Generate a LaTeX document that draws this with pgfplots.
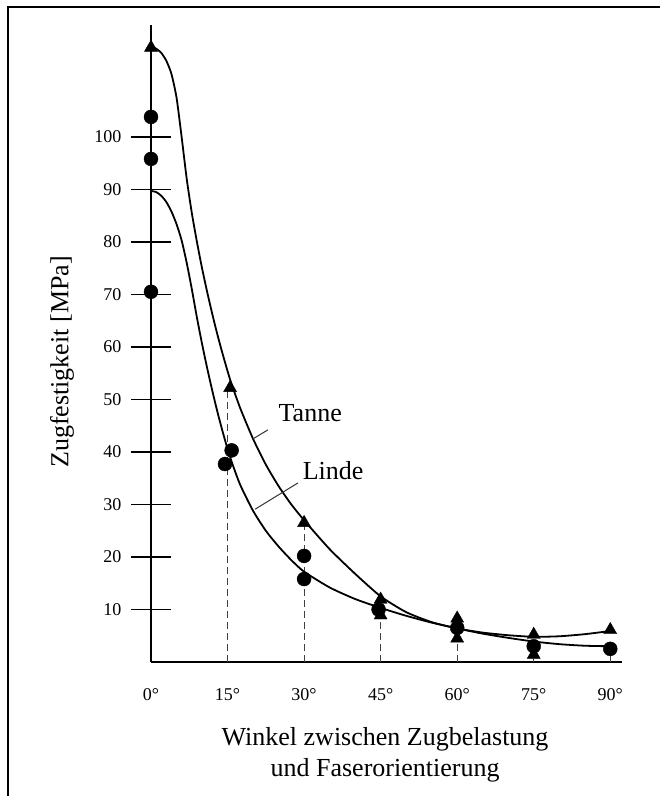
\documentclass[border=0pt]{standalone}
\usepackage{fontspec}
\setmainfont{Liberation Serif}
\usepackage{pgfplots}
\pgfplotsset{compat=1.18}

% Tanne (triangles) and Linde (circles), Zugfestigkeit in MPa
\pgfplotstableread{
w s
0 117
15.5 52.2
30 26.5
45 11.9
45 8.9
60 8.3
60 4.5
75 5.2
75 1.4
90 6.1
}\tannedata
\pgfplotstableread{
w s
0 103.8
0 95.8
0 70.5
15.8 40.3
14.5 37.7
30 20.2
30 15.8
44.6 10.0
60 6.5
75 3.0
90 2.5
}\lindedata

\begin{document}
\begin{tikzpicture}[x=1pt,y=1pt]
\useasboundingbox (0,0) rectangle (660,-796);
\draw[line width=1.8pt] (8,-796) -- (8,-7) -- (660,-7);
\begin{axis}[
    at={(151pt,-662pt)}, anchor=south west,
    scale only axis,
    width=471pt, height=637pt,
    xmin=0, xmax=92.3,
    ymin=0, ymax=121.3,
    clip=false,
    axis lines=left,
    axis line style={-, line width=1.6pt},
    xtick={0,15,30,45,60,75,90},
    xticklabels={0°,15°,30°,45°,60°,75°,90°},
    xtick style={draw=none},
    ytick={10,20,...,100},
    ytick style={black, line width=1.6pt},
    ytick align=center,
    major tick length=40pt,
    /pgf/number format/assume math mode=true,
    tick label style={font=\fontsize{18}{21}\selectfont},
    xticklabel style={yshift=-3pt},
    yticklabel style={xshift=-6pt},
    label style={font=\fontsize{26}{31}\selectfont},
    xlabel={Winkel zwischen Zugbelastung\\und Faserorientierung},
    xlabel style={align=center, at={(axis description cs:0.497,-0.146)}, anchor=center},
    ylabel={Zugfestigkeit [MPa]},
    ylabel style={at={(axis description cs:-0.189,0.471)}, anchor=center},
]
% dashed guide lines
\addplot[black!75, line width=0.9pt, dash pattern=on 7pt off 4pt] coordinates {(15,0) (15,52)};
\addplot[black!75, line width=0.9pt, dash pattern=on 7pt off 4pt] coordinates {(30,0) (30,26)};
\addplot[black!75, line width=0.9pt, dash pattern=on 7pt off 4pt] coordinates {(45,0) (45,9)};
\addplot[black!75, line width=0.9pt, dash pattern=on 7pt off 4pt] coordinates {(60,0) (60,4.5)};
\addplot[black!75, line width=0.9pt, dash pattern=on 7pt off 4pt] coordinates {(75,0) (75,1.4)};
\addplot[black!75, line width=0.9pt, dash pattern=on 7pt off 4pt] coordinates {(90,0) (90,2.5)};
% fitted curves
\addplot[black, line width=1.8pt, smooth, tension=0.4] coordinates {
(0,117) (1,116.8) (2,116) (3,114.5) (4,112) (5,107.5) (6,100) (7,92)
(8,85.5) (9,80) (10,75) (11,70.5) (12,66.3) (13,62.4) (14,58.8) (15.5,53.8)
(17.5,48.3) (20,42.5) (22.5,37.6) (25,33.5) (27.5,30) (30,27) (35,21.5)
(40,16.8) (45,12.5) (50,9.5) (55,7.6) (60,6.4) (65,5.6) (70,5.1) (75,4.8)
(80,4.9) (85,5.3) (90,5.9)};
\addplot[black, line width=1.8pt, smooth, tension=0.4] coordinates {
(0,89.7) (1,89.5) (2,88.8) (3,87.6) (4,85.8) (5,83.4) (6,80.3) (7,76)
(8,71) (9,65.6) (10,60.6) (11,56) (12,51.7) (13,47.7) (14,44) (15,40.6)
(16,37.6) (17.5,33.7) (20,28.8) (22.5,25) (25,22) (27.5,19.4) (30,17.2)
(35,14.2) (40,12) (45,10.3) (50,8.8) (55,7.5) (60,6.4) (65,5.4) (70,4.6)
(75,3.9) (80,3.4) (85,3.1) (90,3)};
% markers
\addplot[only marks, mark=triangle*, mark size=7.5pt, black] table[x=w, y=s] {\tannedata};
\addplot[only marks, mark=*, mark size=7pt, black] table[x=w, y=s] {\lindedata};
% curve labels
\draw[black!80, line width=1pt] (axis cs:20,42.5) -- (axis cs:22.9,44.2);
\draw[black!80, line width=1pt] (axis cs:20.4,29.1) -- (axis cs:28.8,34.1);
\node[font=\fontsize{26}{31}\selectfont] at (axis cs:31.2,47.4) {Tanne};
\node[font=\fontsize{26}{31}\selectfont] at (axis cs:35.7,36.4) {Linde};
\end{axis}
\end{tikzpicture}
\end{document}
